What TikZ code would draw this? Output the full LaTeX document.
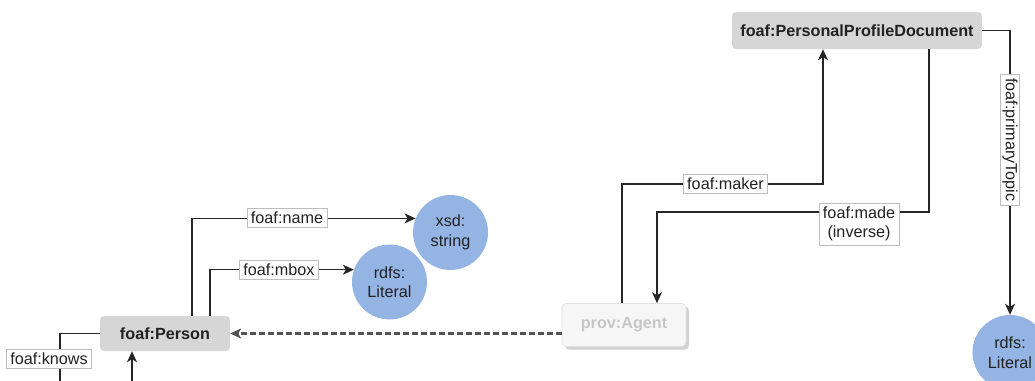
\documentclass[tikz,border=0pt]{standalone}
\usepackage{fontspec}
\setmainfont{Liberation Sans}
\usetikzlibrary{arrows.meta,shadows}
\definecolor{classfill}{HTML}{D6D6D6}
\definecolor{textdark}{HTML}{222222}
\definecolor{litblue}{HTML}{94B4E4}
\definecolor{linecol}{HTML}{262626}
\definecolor{lblborder}{HTML}{BDBDBD}
\definecolor{ghostfill}{HTML}{F6F6F6}
\definecolor{ghostdraw}{HTML}{E0E0E0}
\definecolor{ghosttext}{HTML}{C6C6C6}
\newcommand{\labelfont}{\fontsize{16.2}{19.5}\selectfont}
\tikzset{
  classbox/.style={rounded corners=4pt, fill=classfill, text=textdark,
    font=\bfseries\labelfont, inner sep=0pt},
  ghostbox/.style={rounded corners=4pt, fill=ghostfill, draw=ghostdraw, line width=0.6pt,
    text=ghosttext, font=\bfseries\labelfont, inner sep=0pt,
    drop shadow={shadow xshift=3pt, shadow yshift=-3pt, fill=black!30, opacity=0.6}},
  literal/.style={circle, fill=litblue, minimum size=75pt, inner sep=0pt,
    align=center, text=textdark, font=\labelfont},
  edgelabel/.style={fill=white, draw=lblborder, line width=0.6pt, inner xsep=4pt,
    inner ysep=0pt, minimum height=19pt, text=textdark, font=\labelfont, align=center},
  link/.style={draw=linecol, line width=1.4pt,
    -{Stealth[length=11pt,width=10pt,inset=3pt]}},
  plainlink/.style={draw=linecol, line width=1.4pt},
  dashlink/.style={draw=black!68, line width=2.3pt, dash pattern=on 5.5pt off 3.5pt,
    -{Stealth[length=11pt,width=10pt,inset=3pt]}},
}
\begin{document}
\begin{tikzpicture}[x=1pt,y=-1pt]
\useasboundingbox (0,0) rectangle (1035,380);
\clip (0,0) rectangle (1035,380);

% classes
\node[classbox, minimum width=130pt, minimum height=35pt] (person) at (165,333.5) {foaf:Person};
\node[classbox, minimum width=250pt, minimum height=37pt] (ppd) at (857,30.5) {foaf:PersonalProfileDocument};
\node[ghostbox, minimum width=124pt, minimum height=43pt] (agent) at (624,325) {prov:Agent};

% literals
\node[literal] (xsd) at (450.5,232.5) {xsd:\\string};
\node[literal] (lit1) at (389.5,282) {rdfs:\\Literal};
\node[literal] (lit2) at (1010,352.5) {rdfs:\\Literal};

% bend points
\coordinate (nm) at (192,218);
\coordinate (mb) at (210,270);
\coordinate (kn) at (60,333);
\coordinate (knend) at (60,390);
\coordinate (inc) at (132,390);
\coordinate (mk1) at (622,184);
\coordinate (mk2) at (823,184);
\coordinate (md1) at (929,212);
\coordinate (md2) at (657,212);

% connectors
\draw[link] (person.north -| nm) |- (xsd.158);
\draw[link] (person.north -| mb) |- (lit1.161);
\draw[plainlink] (person.west) -| (knend);
\draw[link] (inc) -- (person.south -| inc);
\draw[dashlink] (agent.west |- person) -- (person.east);
\draw[link] (agent.north -| mk1) -- (mk1) -- (mk2) -- (ppd.south -| mk2);
\draw[link] (ppd.south -| md1) -- (md1) -- (md2) -- (agent.north -| md2);
\draw[link] (ppd.east) -| (lit2.north);

% edge labels
\node[edgelabel] (lname) at (287,218) {foaf:name};
\node[edgelabel] (lmbox) at (279,270) {foaf:mbox};
\node[edgelabel] (lknows) at (49,359) {foaf:knows};
\node[edgelabel] (lmaker) at (725.5,184) {foaf:maker};
\node[edgelabel, minimum height=42pt] (lmade) at (859,224) {foaf:made\\(inverse)};
\node[edgelabel, rotate=-90] (ltopic) at (1010,140) {foaf:primaryTopic};
\end{tikzpicture}
\end{document}
